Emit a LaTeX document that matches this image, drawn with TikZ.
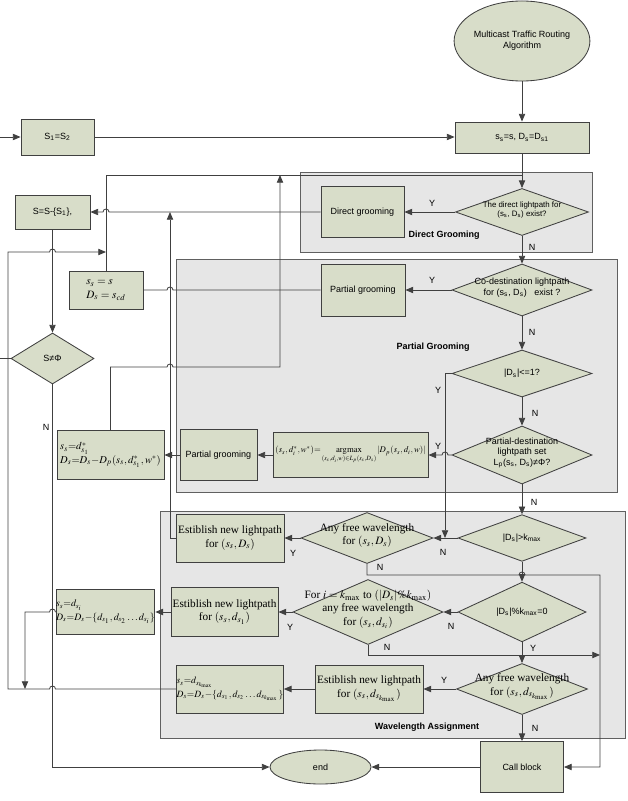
\documentclass[tikz,border=0pt]{standalone}
\usepackage{mathptmx}
\usepackage{fontspec}
\setmainfont{Liberation Serif}
\setsansfont{Liberation Sans}
\usetikzlibrary{shapes.geometric,arrows.meta}

\definecolor{boxfill}{RGB}{216,221,201}
\definecolor{linegray}{RGB}{64,64,64}
\definecolor{regfill}{RGB}{230,230,230}
\definecolor{regline}{RGB}{96,96,96}

% text that may stick out of a diamond
\newcommand{\dtext}[1]{\smash{\makebox[0pt]{\begin{tabular}{@{}c@{}}#1\end{tabular}}}}

\tikzset{
  sfs/.style={font=\sffamily\fontsize{6.4}{7.6}\selectfont},
  sfx/.style={font=\sffamily\fontsize{5.6}{6.8}\selectfont},
  rms/.style={font=\rmfamily\fontsize{8}{9.6}\selectfont},
  mth/.style={font=\rmfamily\fontsize{#1}{9.5}\selectfont},
  ttl/.style={font=\sffamily\bfseries\fontsize{6.4}{7.6}\selectfont,inner sep=0pt},
  blk/.style={draw=linegray,fill=boxfill,rectangle,inner sep=1pt,align=center},
  dec/.style={draw=linegray,fill=boxfill,diamond,inner sep=0pt},
  trm/.style={draw=linegray,fill=boxfill,ellipse,inner sep=0pt,align=center},
  region/.style={draw=regline,fill=regfill},
  lbl/.style={sfs,inner sep=0pt},
  con/.style={draw=linegray},
  arr/.style={con,-{Triangle[length=5.5pt,width=4.5pt]}},
}

\begin{document}
\begin{tikzpicture}[x=0.025cm,y=-0.025cm,line width=0.6pt]
\useasboundingbox (0,0) rectangle (627,801);

% grey areas
\draw[region] (300,172) rectangle (592,252);
\draw[region] (176,259) rectangle (617,492);
\draw[region] (160,511) rectangle (625,738);
\node[ttl] (tdg) at (444,235) {Direct Grooming};
\node[ttl] (tpg) at (433,347) {Partial Grooming};
\node[ttl] (twa) at (427,727) {Wavelength Assignment};

% start
\node[trm,sfs,minimum width=2.7cm,minimum height=2cm] (alg) at (522,41) {Multicast Traffic Routing\\Algorithm};
\node[blk,sfs,minimum width=1.825cm,minimum height=0.9cm] (s12) at (57.5,137) {S\textsubscript{1}=S\textsubscript{2}};
\node[blk,sfs,minimum width=3.35cm,minimum height=0.775cm] (ss) at (522,137.5) {s\textsubscript{s}=s, D\textsubscript{s}=D\textsubscript{s1}};
\node[blk,sfs,minimum width=1.875cm,minimum height=0.85cm] (sm) at (52.5,212) {S=S-\{S\textsubscript{1}\},};
\node[blk,rms,align=left,minimum width=1.85cm,minimum height=0.95cm] (ssd) at (106,290) {$s_s = s$\\$D_s = s_{cd}$};
\node[dec,sfs,minimum width=2.075cm,minimum height=1.275cm] (neq) at (52.5,358.5) {S≠Φ};
\coordinate (in0) at (0,137);
\coordinate (out0) at (0,358.5);

% direct grooming
\node[dec,sfx,minimum width=3.325cm,minimum height=1.175cm] (ddir) at (522,212) {\dtext{The direct lightpath for\\(s\textsubscript{s}, D\textsubscript{s}) exist?}};
\node[blk,sfs,minimum width=2.075cm,minimum height=1.275cm] (dg) at (362.5,212) {Direct grooming};

% partial grooming
\node[dec,sfs,minimum width=3.5cm,minimum height=1.3cm] (dco) at (522,290) {\dtext{Co-destination lightpath\\for (s\textsubscript{s}, D\textsubscript{s})\ \ \ exist ?}};
\node[blk,sfs,minimum width=2.1cm,minimum height=1.3cm] (pg1) at (363,290) {Partial grooming};
\node[dec,sfs,minimum width=3.5cm,minimum height=1.175cm] (dle) at (522,373.5) {|D\textsubscript{s}|<=1?};
\node[dec,sfs,minimum width=3.5cm,minimum height=1.45cm] (dpd) at (522,455) {\dtext{Partial-destination\\lightpath set\\L\textsubscript{p}(s\textsubscript{s}, D\textsubscript{s})≠Φ?}};
\node[blk,mth=6.2,minimum width=3.875cm,minimum height=1.125cm,inner sep=0pt] (amx) at (350.5,455) {$(s_s,d_i^*,w^*){=}\mathop{\mathrm{argmax}}\limits_{(s_s,d_i,w)\in L_p(s_s,D_s)}|D_p(s_s,d_i,w)|$};
\node[blk,sfs,minimum width=1.925cm,minimum height=1.275cm] (pg2) at (218.5,455) {Partial grooming};
\node[blk,mth=7.5,align=left,minimum width=2.675cm,minimum height=1.225cm,inner sep=0pt] (sdp) at (110.5,455) {$s_s{=}d^*_{s_1}$\\$D_s{=}D_s{-}D_p(s_s,d^*_{s_1},w^*)$};

% wavelength assignment
\node[dec,sfs,minimum width=3.2cm,minimum height=1.025cm] (dgt) at (522,538) {|D\textsubscript{s}|>k\textsubscript{max}};
\node[dec,rms,minimum width=3.3cm,minimum height=1.275cm] (af1) at (367,538) {\dtext{Any free wavelength\\for $(s_s, D_s)$}};
\node[blk,rms,minimum width=2.7cm,minimum height=1.2cm,inner sep=0pt] (nl1) at (230,538) {Estiblish new lightpath\\for $(s_s, D_s)$};
\node[dec,sfs,minimum width=3.2cm,minimum height=1.025cm] (dmod) at (522,612) {|D\textsubscript{s}|\%k\textsubscript{max}=0};
\node[dec,rms,minimum width=3.75cm,minimum height=1.625cm] (dfor) at (368,612) {\dtext{For $i=k_{\max}$ to $(|D_s|\%k_{\max})$\\any free wavelength\\for $(s_s, d_{s_i})$}};
\node[blk,rms,minimum width=2.675cm,minimum height=1.225cm,inner sep=0pt] (nl2) at (224.5,612) {Estiblish new lightpath\\for $(s_s, d_{s_1})$};
\node[blk,mth=7,align=left,minimum width=2.425cm,minimum height=1.125cm,inner sep=0pt] (sdi) at (105.5,612) {$s_s{=}d_{s_i}$\\$D_s{=}D_s{-}\{d_{s_1},d_{s_2}\ldots d_{s_i}\}$};
\node[dec,rms,minimum width=3.275cm,minimum height=1.275cm] (af3) at (522,689) {\dtext{Any free wavelength\\for $(s_s, d_{s_{k_{\max}}})$}};
\node[blk,rms,minimum width=2.7cm,minimum height=1.2cm,inner sep=0pt] (nl3) at (369,689) {Estiblish new lightpath\\for $(s_s, d_{s_{k_{\max}}})$};
\node[blk,mth=6.8,align=left,minimum width=2.65cm,minimum height=1.2cm,inner sep=0pt] (sdk) at (230,689) {$s_s{=}d_{s_{k_{\max}}}$\\$D_s{=}D_s{-}\{d_{s_1},d_{s_2}\ldots d_{s_{k_{\max}}}\}$};

% end
\node[blk,sfs,minimum width=2.075cm,minimum height=1.275cm] (cb) at (522,767) {Call block};
\node[trm,sfs,minimum width=2.525cm,minimum height=0.85cm] (fin) at (320.5,767) {end};

% joints
\coordinate (jd) at (522,175);
\coordinate (ju) at (280,175);
\coordinate (jr) at (170,212);
\coordinate (jl) at (106,252);
\coordinate (jy) at (445,538);
\coordinate (jn) at (600,655);
\coordinate (jk) at (25,689);

% connectors
\draw[arr] (alg) -- (ss);
\draw[arr] (in0) -- (s12);
\draw[arr] (s12) -- (s12 -| ss.west);
\draw[arr] (ss) -- (ddir);
\draw[con] (ssd.north) |- (jd);
\draw[arr] (ddir) -- (dg);
\draw[arr] (ddir) -- (dco);
\draw[arr] (dg.west) -- (109,212) arc[start angle=0,end angle=180,radius=0.075cm] -- (sm.east);
\draw[arr] (dco) -- (pg1);
\draw[con] (pg1.west) -- (173,290) arc[start angle=0,end angle=180,radius=0.075cm] -- (ssd.east);
\draw[arr] (dco) -- (dle);
\draw[arr] (dle) -- (dpd);
\draw[arr] (dle.west) -| (jy);
\draw[arr] (dpd.west) -- (448,455) arc[start angle=0,end angle=180,radius=0.075cm] -- (amx.east);
\draw[arr] (amx) -- (pg2);
\draw[arr] (pg2) -- (sdp);
\draw[arr] (sdp.north) |- (167,367) arc[start angle=180,end angle=0,radius=0.075cm] -| (ju);
\draw[arr] (dpd) -- (dgt);
\draw[arr] (dgt) -- (af1);
\draw[arr] (af1) -- (nl1);
\draw[arr] (nl1.west) -| (jr);
\draw[arr] (af1.south) |- (519,575) arc[start angle=180,end angle=0,radius=0.075cm] -- (600,575) |- (cb.east);
\draw[arr] (dgt) -- (dmod);
\draw[arr] (dmod) -- (dfor);
\draw[arr] (dfor) -- (nl2);
\draw[arr] (nl2) -- (sdi);
\draw[arr] (sdi.west) -- (55.5,612) arc[start angle=0,end angle=180,radius=0.075cm] -| (jk);
\draw[arr] (dfor.south) |- (jn);
\draw[arr] (dmod) -- (af3);
\draw[arr] (af3) -- (nl3);
\draw[arr] (nl3) -- (sdk);
\draw[arr] (sdk.west) -- (55.5,689) arc[start angle=0,end angle=180,radius=0.075cm] -- (8,689) -- (8,252) -- (49.5,252) arc[start angle=180,end angle=0,radius=0.075cm] -- (jl);
\draw[arr] (af3) -- (cb);
\draw[arr] (cb) -- (fin);
\draw[arr] (sm) -- (neq);
\draw[con] (neq.west) -- (out0);
\draw[arr] (neq.south) |- (fin.west);

% Y / N
\node[lbl] (y1) at (432,203) {Y};
\node[lbl] (n1) at (532,247) {N};
\node[lbl] (y2) at (432,280) {Y};
\node[lbl] (n2) at (532,332) {N};
\node[lbl] (y3) at (438,390) {Y};
\node[lbl] (n3) at (535,413) {N};
\node[lbl] (y4) at (438,446) {Y};
\node[lbl] (n4) at (534,502) {N};
\node[lbl] (n5) at (443,552) {N};
\node[lbl] (y5) at (293,553) {Y};
\node[lbl] (n6) at (380,567) {N};
\node[lbl] (n7) at (451,626) {N};
\node[lbl] (y6) at (290,627) {Y};
\node[lbl] (n8) at (387,647) {N};
\node[lbl] (y7) at (533,648) {Y};
\node[lbl] (y8) at (444,680) {Y};
\node[lbl] (n9) at (535,728) {N};
\node[lbl] (n10) at (46,427) {N};
\end{tikzpicture}
\end{document}
